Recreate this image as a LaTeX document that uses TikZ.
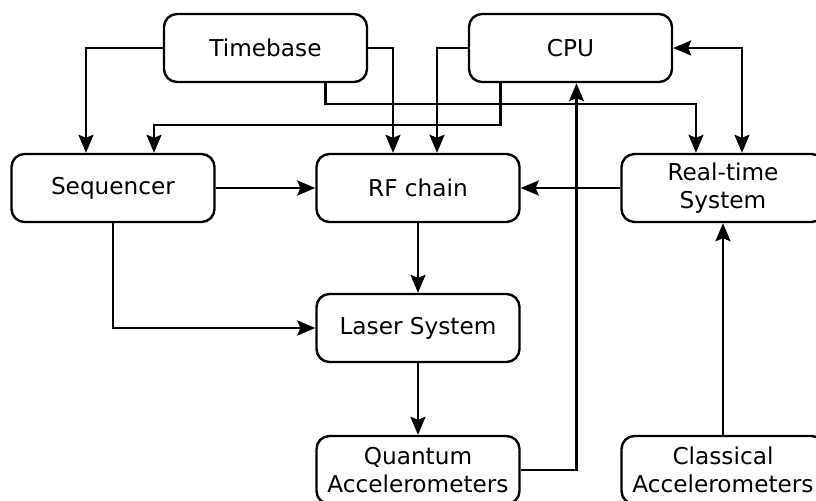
\documentclass[tikz,border=0pt]{standalone}
\usepackage{fontspec}
\setmainfont{DejaVu Sans}
\usetikzlibrary{arrows.meta,positioning}

\begin{document}
\begin{tikzpicture}[node distance=70pt and 152.5pt,on grid,line width=1.2pt,
   >={Stealth[length=9pt,width=7.5pt,inset=1.5pt]},
   block/.style={draw,rounded corners=6.5pt,minimum width=101.5pt,minimum height=34pt,
     align=center,font=\fontsize{11.6}{14}\selectfont}]
   \useasboundingbox (-209pt,-156pt) rectangle (199pt,94pt);
   \node [block] (rf) {RF chain};
   \node [block] (seq) [left= of rf] {Sequencer};
   \node [block] (rts) [right= of rf] {Real-time\\System};
   \node [block] (timebase) [above left=70pt and 76.25pt of rf] {Timebase};
   \node [block] (cpu) [right= of timebase] {CPU};
   \node [block] (laser) [below= of rf] {Laser System};
   \node [block] (qacc) [below=71pt of laser] {Quantum\\Accelerometers};
   \node [block] (cacc) [right= of qacc] {Classical\\Accelerometers};
    \path[->]
    (seq) edge (rf)
    (rts) edge (rf)
    (rf) edge (laser)
    (laser) edge (qacc)
    (cacc) edge (rts);
    % elbow connectors
    \draw[->] (timebase.west) -| ([xshift=-13.5pt]seq.north);
    \draw[->] (timebase.east) -| ([xshift=-12.5pt]rf.north);
    \draw[->] (cpu.west) -| ([xshift=9.5pt]rf.north);
    \draw[->] ([xshift=30pt]timebase.south) -- ++(0,-10.5pt) -| ([xshift=-13.5pt]rts.north);
    \draw[->] ([xshift=-35pt]cpu.south) -- ++(0,-21pt) -| ([xshift=20.5pt]seq.north);
    \draw[<->] (cpu.east) -| ([xshift=9.5pt]rts.north);
    \draw[->] (qacc.east) -| ([xshift=3pt]cpu.south);
    \draw[->] (seq.south) |- (laser.west);
\end{tikzpicture}
\end{document}
